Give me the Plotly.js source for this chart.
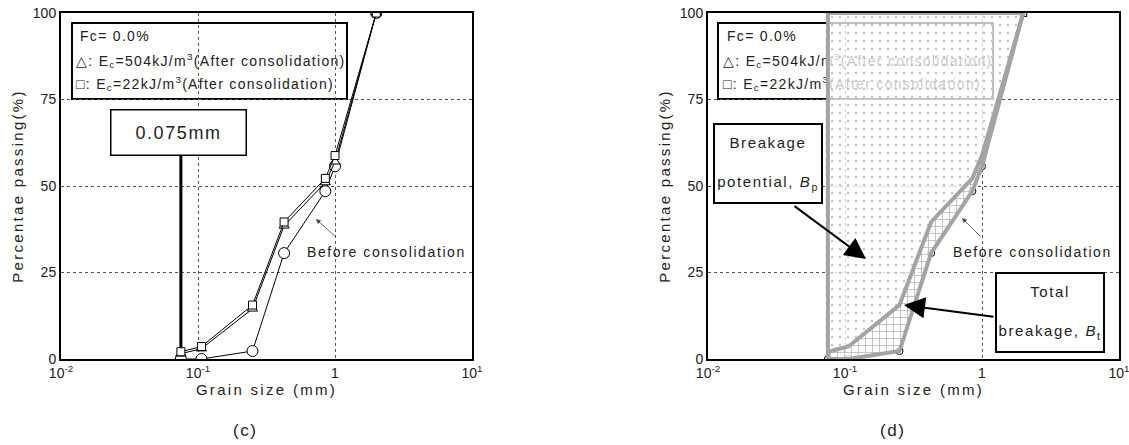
<!DOCTYPE html>
<html>
<head>
<meta charset="utf-8">
<script src="https://cdn.plot.ly/plotly-3.0.1.min.js"></script>
<style>
  html, body { margin: 0; padding: 0; background: #fff; }
  #chart { width: 1129px; height: 445px; }
  .xtitle, .x2title, .ytitle, .y2title { letter-spacing: 2.3px; }
  .annotation-text { letter-spacing: 1.6px; }
  .textpoint text { letter-spacing: 1.3px; }
</style>
</head>
<body>
<div id="chart"></div>
<script>
// ---------------- data ----------------
const grainSizes   = [0.075, 0.106, 0.25, 0.425, 0.85, 1.0, 2.0];   // mm
const beforeCons   = [0, 0, 2.3, 30.6, 48.5, 55.7, 100];              // % passing
const after504     = [1.5, 3.0, 14.5, 38.5, 51.0, 57.0, 100];
const after22      = [2.1, 3.6, 15.6, 39.6, 52.2, 58.8, 100];
const fineLimit    = 0.075;      // mm
const fineLineTop  = 60;         // % (line reaches the label box)
const xTickVals    = [0.01, 0.1, 1, 10];
const xTickText    = ['10<sup>-2</sup>', '10<sup>-1</sup>', '1', '10<sup>1</sup>'];
const yTickVals    = [0, 25, 50, 75, 100];
const legendLines  = [
  'Fc= 0.0%',
  '\u25B3: E<sub>c</sub>=504kJ/m<sup>3</sup>(After consolidation)',
  '\u25A1: E<sub>c</sub>=22kJ/m<sup>3</sup>(After consolidation)'
];

// ---------------- geometry helpers (layout only) ----------------
const W = 1129, H = 445;
const PX = { l1: 61, r1: 472, l2: 708, r2: 1119, top: 13, bot: 359 };
const px = p => p / W;
const py = p => 1 - p / H;
const decade = (PX.r1 - PX.l1) / 3;
const xFromPx = (p, left) => Math.pow(10, (p - left) / decade - 2);
const yFromPx = p => (PX.bot - p) / (PX.bot - PX.top) * 100;

const FONT = 'Liberation Sans, Arial, sans-serif';
const TXT = '#222';
const GREY = '#a3a3a3';

function axisX(left, right, anchor) {
  return {
    domain: [px(left), px(right)], anchor: anchor, type: 'log', range: [-2, 1],
    tickvals: xTickVals, ticktext: xTickText, ticks: '', ticklabeloverflow: 'allow',
    tickfont: { family: FONT, size: 14, color: TXT },
    showline: true, mirror: true, linewidth: 2, linecolor: '#000',
    showgrid: true, gridcolor: '#555', gridwidth: 1, griddash: 'dot',
    zeroline: false, fixedrange: true,
    title: { text: 'Grain size (mm)', font: { family: FONT, size: 15, color: TXT }, standoff: 2 }
  };
}
function axisY(anchor) {
  return {
    domain: [py(PX.bot), py(PX.top)], anchor: anchor, range: [0, 100],
    tickvals: yTickVals, ticks: '', ticklabeloverflow: 'allow',
    tickfont: { family: FONT, size: 14, color: TXT },
    showline: true, mirror: true, linewidth: 2, linecolor: '#000',
    showgrid: true, gridcolor: '#555', gridwidth: 1, griddash: 'dot',
    zeroline: false, fixedrange: true,
    title: { text: 'Percentae passing(%)', font: { family: FONT, size: 15, color: TXT }, standoff: 6 }
  };
}

function legendText(left, xa, ya) {
  const off = left - PX.l1;
  return {
    type: 'scatter', mode: 'text', xaxis: xa, yaxis: ya,
    x: [xFromPx(80 + off, left), xFromPx(76 + off, left), xFromPx(76 + off, left)],
    y: [yFromPx(37), yFromPx(62), yFromPx(85)],
    text: legendLines, textposition: 'middle right',
    textfont: { family: FONT, size: 14, color: TXT },
    hoverinfo: 'skip'
  };
}

const traces = [];

// ---------- (c) ----------
traces.push(legendText(PX.l1, 'x', 'y'));
traces.push({
  x: [fineLimit, fineLimit], y: [0, fineLineTop], mode: 'lines',
  line: { color: '#000', width: 3 }, xaxis: 'x', yaxis: 'y'
});
traces.push({
  x: grainSizes, y: beforeCons, mode: 'lines+markers', xaxis: 'x', yaxis: 'y',
  line: { color: '#000', width: 1 },
  marker: { symbol: 'circle', size: 11, color: '#fff', line: { color: '#000', width: 1 } }
});
traces.push({
  x: grainSizes, y: after504, mode: 'lines+markers', xaxis: 'x', yaxis: 'y',
  line: { color: '#000', width: 1 },
  marker: { symbol: 'triangle-up', size: 9, color: '#fff', line: { color: '#000', width: 1 } }
});
traces.push({
  x: grainSizes, y: after22, mode: 'lines+markers', xaxis: 'x', yaxis: 'y',
  line: { color: '#000', width: 1 },
  marker: { symbol: 'square', size: 8, color: '#fff', line: { color: '#000', width: 1 } }
});

// ---------- (d) ----------
traces.push(legendText(PX.l2, 'x2', 'y2'));
traces.push({
  x: grainSizes, y: beforeCons, mode: 'markers', xaxis: 'x2', yaxis: 'y2',
  marker: { symbol: 'circle', size: 7, color: '#fff', line: { color: '#000', width: 1 } }
});
traces.push({
  x: grainSizes.slice(-1), y: after22.slice(-1), mode: 'markers', xaxis: 'x2', yaxis: 'y2',
  marker: { symbol: 'square', size: 7, color: '#fff', line: { color: '#000', width: 1 } }
});
// breakage potential region (dotted)
traces.push({
  x: [fineLimit].concat(grainSizes.slice().reverse()),
  y: [100].concat(after22.slice().reverse()),
  mode: 'none', fill: 'toself', xaxis: 'x2', yaxis: 'y2',
  fillcolor: 'rgba(255,255,255,0.75)',
  fillpattern: { shape: '.', bgcolor: 'rgba(255,255,255,0.75)', fgcolor: '#c4c4c4', size: 8, solidity: 0.08 }
});
// total breakage region (grid hatch)
traces.push({
  x: grainSizes.concat(grainSizes.slice().reverse()),
  y: after22.concat(beforeCons.slice().reverse()),
  mode: 'none', fill: 'toself', xaxis: 'x2', yaxis: 'y2',
  fillcolor: 'rgba(255,255,255,0.8)',
  fillpattern: { shape: '+', bgcolor: 'rgba(255,255,255,0.8)', fgcolor: '#b0b0b0', size: 7, solidity: 0.2 }
});
// grey outlines
traces.push({
  x: [fineLimit, fineLimit].concat(grainSizes.slice().reverse()),
  y: [beforeCons[0], 100].concat(after22.slice().reverse()),
  mode: 'lines', xaxis: 'x2', yaxis: 'y2', line: { color: GREY, width: 4 }
});
traces.push({
  x: grainSizes, y: beforeCons, mode: 'lines', xaxis: 'x2', yaxis: 'y2',
  line: { color: GREY, width: 4 }
});
traces.forEach(t => { t.showlegend = false; t.hoverinfo = 'skip'; if (!t.type) t.type = 'scatter'; });

// ---------------- shapes & annotations ----------------
const shapes = [
  { type: 'rect', xref: 'paper', yref: 'paper', layer: 'between',
    x0: px(72), x1: px(347), y0: py(99), y1: py(23),
    line: { color: '#000', width: 2 }, fillcolor: '#fff' },
  { type: 'rect', xref: 'paper', yref: 'paper', layer: 'between',
    x0: px(718), x1: px(993), y0: py(99), y1: py(23),
    line: { color: '#000', width: 2 }, fillcolor: '#fff' }
];

const C = { xanchor: 'center', yanchor: 'middle', xref: 'paper', yref: 'paper' };
const thinArrow = { showarrow: true, arrowhead: 2, arrowsize: 1.2, arrowwidth: 0.8, arrowcolor: '#444', text: '' };
const annotations = [
  Object.assign({ x: px(178), y: py(132), text: '0.075mm', showarrow: false,
    font: { family: FONT, size: 18, color: TXT }, bgcolor: '#fff', bordercolor: '#000', borderwidth: 1.5,
    width: 134, height: 44, borderpad: 0 }, C),
  Object.assign({ x: px(316), y: py(219), ax: 21, ay: 19 }, thinArrow, C),
  Object.assign({ x: px(386), y: py(252), text: 'Before consolidation', showarrow: false,
    font: { family: FONT, size: 14, color: TXT } }, C),
  Object.assign({ x: px(962), y: py(218), ax: 20, ay: 20 }, thinArrow, C),
  Object.assign({ x: px(1032), y: py(252), text: 'Before consolidation', showarrow: false,
    font: { family: FONT, size: 14, color: TXT } }, C),
  // breakage potential
  Object.assign({ x: px(866), y: py(259), ax: -73, ay: -54, text: '', showarrow: true,
    arrowhead: 2, arrowsize: 2.1, arrowwidth: 2, arrowcolor: '#000' }, C),
  Object.assign({ x: px(768), y: py(163.5), showarrow: false,
    text: 'Breakage<br><br>potential, <i>B</i><sub>p</sub>',
    font: { family: FONT, size: 15, color: TXT }, bgcolor: '#fff', bordercolor: '#000', borderwidth: 2,
    width: 106, height: 77, borderpad: 0 }, C),
  // total breakage
  Object.assign({ x: px(904), y: py(305), ax: 91, ay: 12, text: '', showarrow: true,
    arrowhead: 2, arrowsize: 2.1, arrowwidth: 2, arrowcolor: '#000' }, C),
  Object.assign({ x: px(1050), y: py(312.5), showarrow: false,
    text: 'Total<br><br>breakage, <i>B</i><sub>t</sub>',
    font: { family: FONT, size: 15, color: TXT }, bgcolor: '#fff', bordercolor: '#000', borderwidth: 2,
    width: 106, height: 77, borderpad: 0 }, C),
  // panel labels
  Object.assign({ x: px(245), y: py(430), text: '(c)', showarrow: false,
    font: { family: FONT, size: 17, color: TXT } }, C),
  Object.assign({ x: px(893), y: py(430), text: '(d)', showarrow: false,
    font: { family: FONT, size: 17, color: TXT } }, C)
];

const layout = {
  width: W, height: H,
  margin: { l: 0, r: 0, t: 0, b: 0 },
  paper_bgcolor: '#fff', plot_bgcolor: '#fff',
  showlegend: false, hovermode: false,
  font: { family: FONT, color: TXT },
  xaxis: axisX(PX.l1, PX.r1, 'y'),
  yaxis: axisY('x'),
  xaxis2: axisX(PX.l2, PX.r2, 'y2'),
  yaxis2: axisY('x2'),
  shapes: shapes,
  annotations: annotations
};

Plotly.newPlot('chart', traces, layout, { displayModeBar: false, staticPlot: true });
</script>
</body>
</html>
